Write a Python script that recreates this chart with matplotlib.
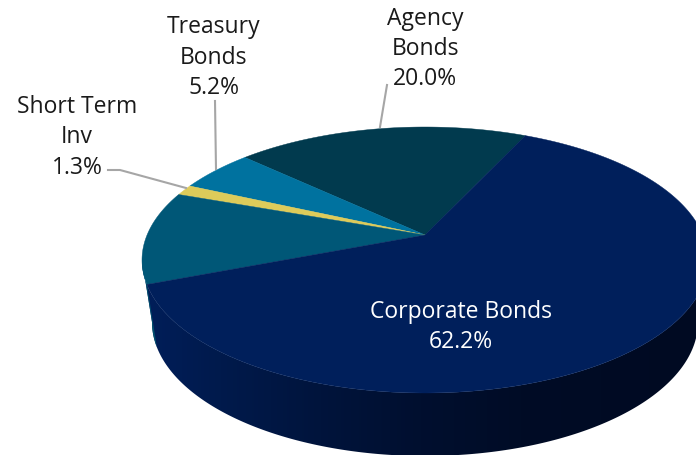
import numpy as np
import matplotlib
matplotlib.use('Agg')
import matplotlib.pyplot as plt
from matplotlib.patches import Polygon

# slices, counter clockwise from the corporate / agency edge
slice_names = ['Agency Bonds', 'Treasury Bonds', 'Short Term Inv', 'Other', 'Corporate Bonds']
slice_values = [20.0, 5.2, 1.3, 11.3, 62.2]
slice_colors = ['#013A4E', '#00729F', '#DDCB5A', '#005777', '#001F5B']
label_texts = ['Agency\nBonds\n20.0%', 'Treasury\nBonds\n5.2%', 'Short Term\nInv\n1.3%', '',
               'Corporate Bonds\n62.2%']

# pixel geometry of the tilted pie
start_deg = 65
cx, cy, rx, ry = 425, 261, 283, 133
apex_y = 236
low_cx, low_cy, low_rx, low_ry = 425, 323, 273, 134

plt.rcParams['font.family'] = ['Open Sans', 'DejaVu Sans']

fig = plt.figure(figsize=(6.96, 4.56), dpi=100)
ax = fig.add_axes([0, 0, 1, 1])


def project(theta):
    # circle angle -> point on the top ellipse, centre moved up by the tilt
    v0 = (cy - apex_y) / ry
    u = np.cos(theta)
    v = np.sin(theta)
    d = 1 + v0 * v
    return cx + rx * u * np.sqrt(1 - v0 ** 2) / d, cy - ry * (v + v0) / d


# side wall
phi = np.linspace(np.pi, 0, 300)
top_x = cx + rx * np.cos(phi)
top_y = cy + ry * np.sin(phi)
low_x = low_cx + low_rx * np.cos(phi)
low_y = low_cy + low_ry * np.sin(phi)
side = Polygon(np.r_[np.c_[top_x, top_y], np.c_[low_x, low_y][::-1]], closed=True,
               fc='none', ec='none')
ax.add_patch(side)
grad_x = np.array([142, 220, 320, 420, 520, 600, 696])
grad_g = np.array([30, 26, 20, 15, 12, 11, 10])
grad_b = np.array([90, 76, 60, 47, 38, 36, 34])
xs = np.arange(142, 697)
grad = np.stack([np.zeros(len(xs)), np.interp(xs, grad_x, grad_g),
                 np.interp(xs, grad_x, grad_b)], axis=1)[None, :, :] / 255
im = ax.imshow(grad, extent=[142, 697, 460, 200], aspect='auto', zorder=1)
im.set_clip_path(side)

# teal sliver of the side, left of the corporate edge
t_phi = np.linspace(np.pi, np.pi - 0.19, 20)
sliver = np.r_[np.c_[cx + rx * np.cos(t_phi), cy + ry * np.sin(t_phi)],
               np.c_[low_cx + low_rx * np.cos(t_phi), low_cy + low_ry * np.sin(t_phi)][::-1]]
ax.add_patch(Polygon(sliver, closed=True, fc='#00506E', ec='none', zorder=2))

# top face
angle = np.radians(start_deg)
for value, color in zip(slice_values, slice_colors):
    sweep = np.radians(value * 3.6)
    th = np.linspace(angle, angle + sweep, max(int(value * 6), 8))
    px, py = project(th)
    pts = np.c_[np.r_[cx, px], np.r_[apex_y, py]]
    ax.add_patch(Polygon(pts, closed=True, fc=color, ec=color, lw=0.3, zorder=3))
    angle += sweep

# leader lines
ax.plot([108, 120, 186], [171, 171, 189], color='#A6A6A6', lw=1.5, zorder=4)
ax.plot([215, 216], [102, 170], color='#A6A6A6', lw=1.5, zorder=4)
ax.plot([387, 380], [86, 128], color='#A6A6A6', lw=1.5, zorder=4)

# labels
label_pos = [(425, 49), (214, 57.5), (77, 137.5), None, (461, 327)]
label_colors = ['#1A1A1A', '#1A1A1A', '#1A1A1A', None, 'white']
for text, pos, color in zip(label_texts, label_pos, label_colors):
    if text:
        ax.text(pos[0], pos[1], text, ha='center', va='center', color=color,
                fontsize=16.5, linespacing=1.35, zorder=5)

ax.set_xlim(0, 696)
ax.set_ylim(456, 0)
ax.axis('off')
fig.savefig('out.png', dpi=100)
